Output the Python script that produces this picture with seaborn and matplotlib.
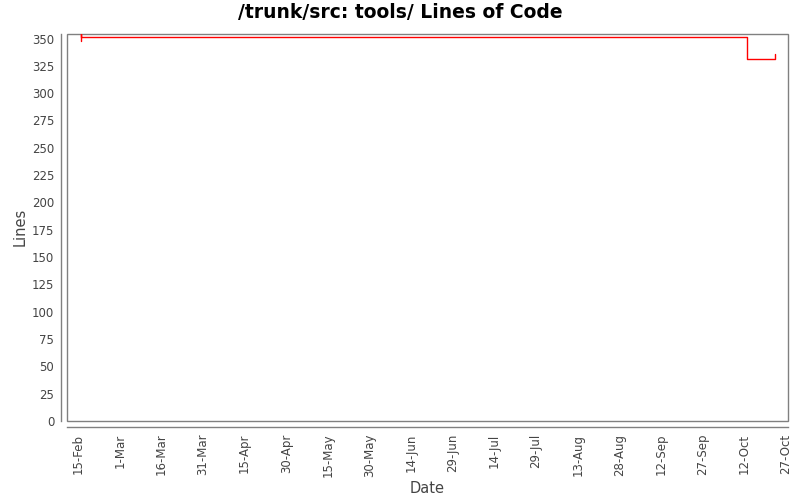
import pandas as pd
import numpy as np
import matplotlib.pyplot as plt
import matplotlib.dates as mdates
import seaborn as sns

sns.set_style('white')
plt.rcParams['font.family'] = ['DejaVu Sans']

# lines of code over time (corner points of the step line)
dates = ['2008-02-16', '2008-02-16', '2008-02-16', '2008-10-13',
         '2008-10-13', '2008-10-23', '2008-10-23']
lines = [348, 354, 351, 351, 331, 331, 336]
tick_dates = pd.date_range('2008-02-15', '2008-10-27', freq='15D')
tick_labels = [d.strftime('%-d-%b') for d in tick_dates]
y_ticks = list(range(0, 351, 25))

df = pd.DataFrame({'Date': pd.to_datetime(dates), 'Lines': lines})

fig = plt.figure(figsize=(8, 5), dpi=100)
ax = fig.add_axes([0.0834, 0.158, 0.9016, 0.775])
sns.lineplot(x='Date', y='Lines', data=df, ax=ax, color='#ff0000',
             linewidth=1, sort=False, estimator=None)

ax.set_xlim(pd.Timestamp('2008-02-10 22:00'), pd.Timestamp('2008-10-27 18:00'))
ax.set_ylim(0, 354.6)
ax.set_xticks(tick_dates)
ax.set_xticklabels(tick_labels)
ax.set_yticks(y_ticks)

# plot frame plus detached axis lines
ax.patch.set_edgecolor('#808080')
ax.patch.set_linewidth(1)
sns.despine(ax=ax, top=True, right=True, offset=4)
for s in ['left', 'bottom']:
    ax.spines[s].set_color('#808080')
    ax.spines[s].set_linewidth(1)
ax.tick_params(axis='both', length=3, width=1, color='#808080',
               labelcolor='#444444', labelsize=8.5, pad=2)
ax.tick_params(axis='x', labelrotation=90)
ax.set_xlabel('Date', fontsize=10.5, color='#444444', labelpad=3)
ax.set_ylabel('Lines', fontsize=10.5, color='#444444', labelpad=3)
fig.suptitle('/trunk/src: tools/ Lines of Code', fontsize=13.5,
             fontweight='bold', color='black', y=0.993)

fig.savefig('out.png', dpi=100)
